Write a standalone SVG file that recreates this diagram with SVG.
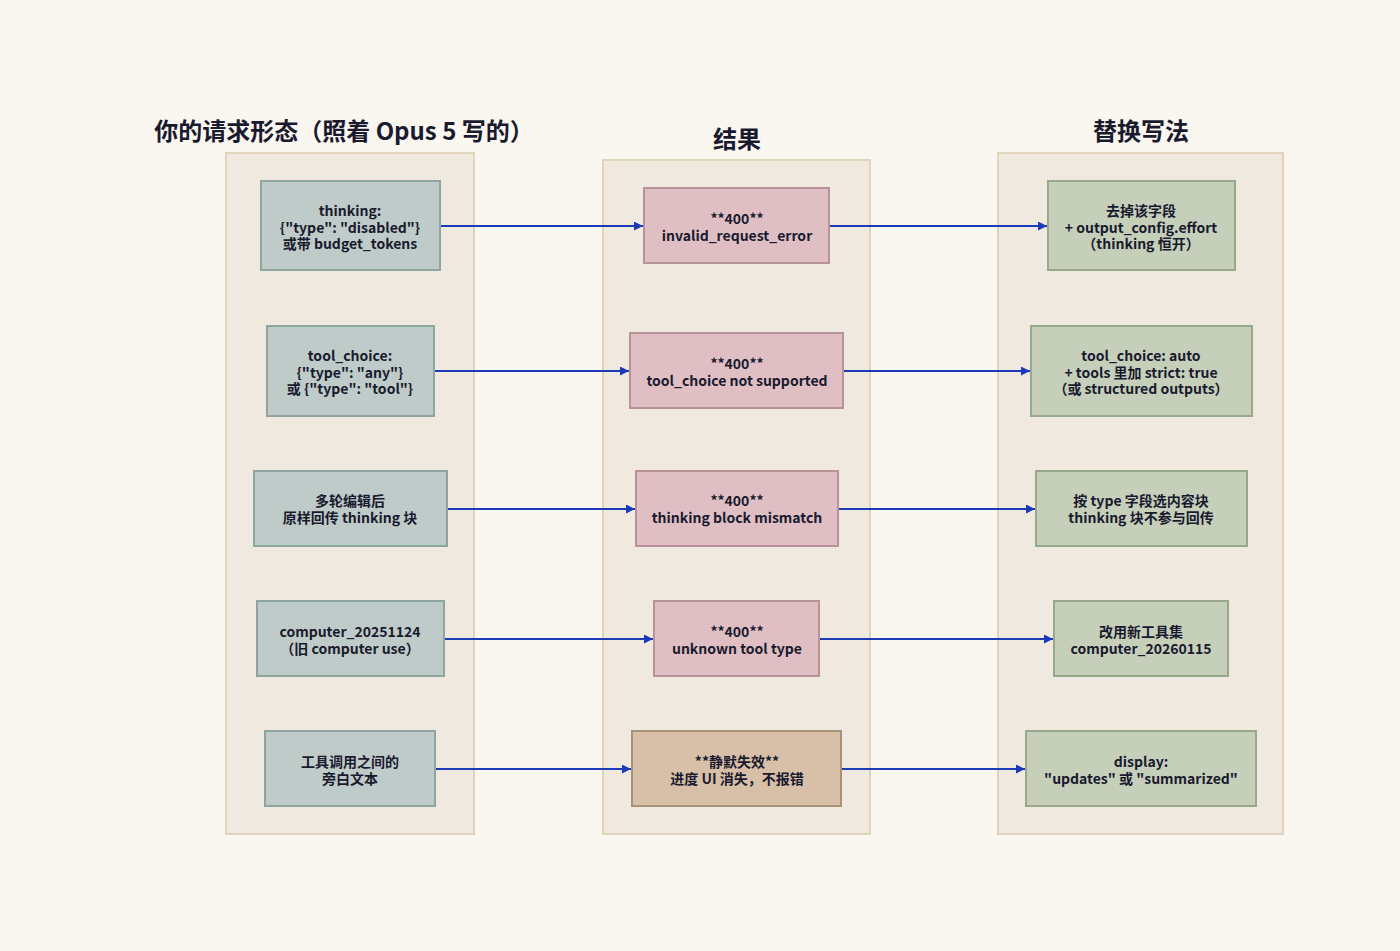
<svg xmlns="http://www.w3.org/2000/svg" width="1400" height="951" viewBox="0 0 1400 951">
<style>
text{font-family:"Noto Sans CJK SC","Noto Sans",sans-serif;font-weight:bold;fill:#1a1a2e;text-anchor:middle}
.t{font-size:14px}
.h{font-size:24px}
.col{fill:#f0e9df;stroke:#e0d4bd;stroke-width:2}
.a{fill:#bfcbc8;stroke:#8fa59f;stroke-width:2}
.b{fill:#dfbfc4;stroke:#b89299;stroke-width:2}
.c{fill:#d8bfa8;stroke:#a89278;stroke-width:2}
.d{fill:#c5cfba;stroke:#98a88a;stroke-width:2}
.e{stroke:#1a3ab8;stroke-width:1.8;fill:none;marker-end:url(#ar)}
</style>
<defs><marker id="ar" viewBox="0 0 10 10" refX="10" refY="5" markerWidth="9" markerHeight="9" markerUnits="userSpaceOnUse" orient="auto"><path d="M0,0L10,5L0,10z" fill="#1a3ab8"/></marker></defs>
<rect width="1400" height="951" fill="#faf6f0"/>
<g id="columns">
<rect class="col" x="226" y="153" width="248" height="681"/>
<rect class="col" x="603" y="160" width="267" height="674"/>
<rect class="col" x="998" y="153" width="285" height="681"/>
<text class="h" x="344" y="140">你的请求形态（照着 Opus 5 写的）</text>
<text class="h" x="737" y="148">结果</text>
<text class="h" x="1141" y="140">替换写法</text>
</g>
<g id="connectors">
<path class="e" d="M440,226H643"/>
<path class="e" d="M829,226H1047"/>
<path class="e" d="M434,371H629"/>
<path class="e" d="M843,371H1030"/>
<path class="e" d="M447,509H635"/>
<path class="e" d="M838,509H1035"/>
<path class="e" d="M444,639H653"/>
<path class="e" d="M819,639H1053"/>
<path class="e" d="M435,769H631"/>
<path class="e" d="M841,769H1025"/>
</g>
<g id="n1"><rect class="a" x="261" y="181" width="179" height="89"/><text class="t" x="350" y="216">thinking:</text><text class="t" x="350" y="233">{"type": "disabled"}</text><text class="t" x="350" y="249">或带 budget_tokens</text></g>
<g id="n2"><rect class="a" x="267" y="326" width="167" height="90"/><text class="t" x="350" y="361">tool_choice:</text><text class="t" x="350" y="378">{"type": "any"}</text><text class="t" x="350" y="394">或 {"type": "tool"}</text></g>
<g id="n3"><rect class="a" x="254" y="471" width="193" height="75"/><text class="t" x="350" y="506">多轮编辑后</text><text class="t" x="350" y="523">原样回传 thinking 块</text></g>
<g id="n4"><rect class="a" x="257" y="601" width="187" height="75"/><text class="t" x="350" y="637">computer_20251124</text><text class="t" x="350" y="654">（旧 computer use）</text></g>
<g id="n5"><rect class="a" x="265" y="731" width="170" height="75"/><text class="t" x="350" y="767">工具调用之间的</text><text class="t" x="350" y="784">旁白文本</text></g>
<g id="m1"><rect class="b" x="644" y="188" width="185" height="75"/><text class="t" x="737" y="224">**400**</text><text class="t" x="737" y="241">invalid_request_error</text></g>
<g id="m2"><rect class="b" x="630" y="333" width="213" height="75"/><text class="t" x="737" y="369">**400**</text><text class="t" x="737" y="386">tool_choice not supported</text></g>
<g id="m3"><rect class="b" x="636" y="471" width="202" height="75"/><text class="t" x="737" y="506">**400**</text><text class="t" x="737" y="523">thinking block mismatch</text></g>
<g id="m4"><rect class="b" x="654" y="601" width="165" height="75"/><text class="t" x="737" y="637">**400**</text><text class="t" x="737" y="654">unknown tool type</text></g>
<g id="m5"><rect class="c" x="632" y="731" width="209" height="75"/><text class="t" x="737" y="767">**静默失效**</text><text class="t" x="737" y="784">进度 UI 消失，不报错</text></g>
<g id="r1"><rect class="d" x="1048" y="181" width="187" height="89"/><text class="t" x="1141" y="216">去掉该字段</text><text class="t" x="1141" y="233">+ output_config.effort</text><text class="t" x="1141" y="249">（thinking 恒开）</text></g>
<g id="r2"><rect class="d" x="1031" y="326" width="221" height="90"/><text class="t" x="1141" y="361">tool_choice: auto</text><text class="t" x="1141" y="378">+ tools 里加 strict: true</text><text class="t" x="1141" y="394">（或 structured outputs）</text></g>
<g id="r3"><rect class="d" x="1036" y="471" width="211" height="75"/><text class="t" x="1141" y="506">按 type 字段选内容块</text><text class="t" x="1141" y="523">thinking 块不参与回传</text></g>
<g id="r4"><rect class="d" x="1054" y="601" width="174" height="75"/><text class="t" x="1141" y="637">改用新工具集</text><text class="t" x="1141" y="654">computer_20260115</text></g>
<g id="r5"><rect class="d" x="1026" y="731" width="230" height="75"/><text class="t" x="1141" y="767">display:</text><text class="t" x="1141" y="784">"updates" 或 "summarized"</text></g>
</svg>
